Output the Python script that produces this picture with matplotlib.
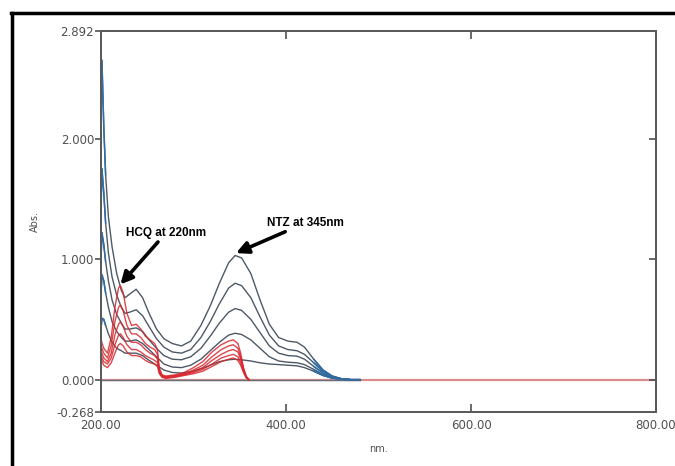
import matplotlib
matplotlib.use("Agg")
import numpy as np
import matplotlib.pyplot as plt
from matplotlib.lines import Line2D

# wavelength grid (nm) for the mixture spectra
wl_mix = [200, 201, 203, 205, 208, 212, 217, 222, 226, 231, 238, 245, 252, 260,
          268, 277, 287, 297, 308, 318, 328, 338, 345, 352, 362, 372, 382, 392,
          402, 412, 420, 430, 440, 450, 460, 470, 480]

mix_1 = [2.10, 2.65, 2.10, 1.70, 1.35, 1.10, 0.88, 0.74, 0.68, 0.71, 0.75, 0.68, 0.55, 0.42,
         0.34, 0.30, 0.28, 0.32, 0.45, 0.61, 0.80, 0.97, 1.03, 1.01, 0.88, 0.66, 0.46, 0.35,
         0.32, 0.31, 0.27, 0.17, 0.08, 0.03, 0.008, 0.0, 0.0]
mix_2 = [1.40, 1.75, 1.55, 1.30, 1.05, 0.85, 0.70, 0.60, 0.55, 0.56, 0.58, 0.53, 0.44, 0.34,
         0.27, 0.23, 0.22, 0.25, 0.35, 0.48, 0.63, 0.76, 0.80, 0.78, 0.68, 0.52, 0.37, 0.28,
         0.25, 0.24, 0.21, 0.14, 0.07, 0.025, 0.006, 0.0, 0.0]
mix_3 = [1.00, 1.22, 1.12, 0.98, 0.82, 0.66, 0.54, 0.47, 0.42, 0.42, 0.43, 0.40, 0.33, 0.26,
         0.20, 0.17, 0.165, 0.19, 0.26, 0.36, 0.47, 0.56, 0.59, 0.575, 0.50, 0.39, 0.28, 0.22,
         0.20, 0.195, 0.17, 0.11, 0.055, 0.02, 0.005, 0.0, 0.0]
mix_4 = [0.70, 0.87, 0.82, 0.72, 0.60, 0.48, 0.40, 0.35, 0.32, 0.32, 0.33, 0.30, 0.25, 0.19,
         0.13, 0.105, 0.10, 0.12, 0.17, 0.24, 0.31, 0.37, 0.385, 0.375, 0.33, 0.26, 0.19, 0.155,
         0.145, 0.14, 0.125, 0.085, 0.04, 0.015, 0.004, 0.0, 0.0]
mix_5 = [0.42, 0.51, 0.50, 0.45, 0.38, 0.31, 0.26, 0.24, 0.22, 0.22, 0.22, 0.20, 0.16, 0.12,
         0.08, 0.06, 0.055, 0.065, 0.09, 0.12, 0.15, 0.165, 0.17, 0.165, 0.155, 0.14, 0.13, 0.125,
         0.12, 0.115, 0.10, 0.07, 0.035, 0.012, 0.003, 0.0, 0.0]

# HCQ spectra
wl_hcq = [200, 203, 207, 211, 215, 219, 221, 224, 228, 233, 238, 243, 248, 253, 258, 261,
          263, 266, 270, 280, 290, 300, 310, 320, 330, 338, 343, 348, 351, 354, 357, 360]

hcq_1 = [0.33, 0.26, 0.22, 0.35, 0.60, 0.76, 0.78, 0.72, 0.55, 0.45, 0.46, 0.42, 0.36, 0.33, 0.30, 0.25,
         0.10, 0.04, 0.03, 0.04, 0.06, 0.10, 0.15, 0.23, 0.29, 0.32, 0.33, 0.30, 0.22, 0.10, 0.03, 0.0]
hcq_2 = [0.28, 0.22, 0.18, 0.28, 0.48, 0.60, 0.62, 0.57, 0.45, 0.38, 0.38, 0.35, 0.30, 0.27, 0.25, 0.21,
         0.08, 0.035, 0.025, 0.035, 0.05, 0.08, 0.12, 0.19, 0.25, 0.28, 0.29, 0.26, 0.19, 0.09, 0.025, 0.0]
hcq_3 = [0.24, 0.18, 0.15, 0.22, 0.37, 0.46, 0.48, 0.44, 0.36, 0.31, 0.31, 0.29, 0.25, 0.22, 0.20, 0.17,
         0.07, 0.03, 0.02, 0.03, 0.045, 0.07, 0.10, 0.16, 0.21, 0.24, 0.25, 0.23, 0.17, 0.08, 0.02, 0.0]
hcq_4 = [0.20, 0.15, 0.13, 0.18, 0.29, 0.37, 0.38, 0.35, 0.29, 0.25, 0.25, 0.23, 0.20, 0.18, 0.16, 0.14,
         0.06, 0.025, 0.015, 0.025, 0.04, 0.06, 0.085, 0.13, 0.18, 0.20, 0.21, 0.19, 0.14, 0.07, 0.02, 0.0]
hcq_5 = [0.17, 0.12, 0.10, 0.14, 0.22, 0.29, 0.30, 0.28, 0.23, 0.20, 0.20, 0.19, 0.16, 0.14, 0.13, 0.11,
         0.05, 0.02, 0.01, 0.02, 0.035, 0.05, 0.07, 0.11, 0.15, 0.17, 0.18, 0.16, 0.12, 0.06, 0.015, 0.0]

# zero line
base_wl = [200, 800]
base_gray_wl = [200, 480]
base_abs = [0.0, 0.0]

y_ticks = [-0.268, 0.0, 1.0, 2.0, 2.892]
y_labels = ["-0.268", "0.000", "1.000", "2.000", "2.892"]
x_ticks = [200, 400, 600, 800]
x_labels = ["200.00", "400.00", "600.00", "800.00"]

gray = "#4e5966"
blue = "#2f6ea8"
red = "#d8262c"
tick_col = "#505050"

fig = plt.figure(figsize=(6.75, 4.66), dpi=100)
ax = fig.add_axes([101 / 675, 54 / 466, 555 / 675, 381 / 466])

ax.plot(base_wl, base_abs, color="#d98c8c", lw=1.6, zorder=1)
ax.plot(base_gray_wl, base_abs, color="#6a6f78", lw=1.0, zorder=2)

wl = np.array(wl_mix)
tail = wl >= 425
head = wl <= 205
for s in [mix_1, mix_2, mix_3, mix_4, mix_5]:
    s = np.array(s)
    ax.plot(wl, s, color=gray, lw=1.0, zorder=3)
    ax.plot(wl[tail], s[tail], color=blue, lw=1.1, zorder=3)
    ax.plot(wl[head], s[head], color=blue, lw=1.1, zorder=3)

for s in [hcq_1, hcq_2, hcq_3, hcq_4, hcq_5]:
    ax.plot(wl_hcq, s, color=red, lw=1.0, alpha=0.85, zorder=4)

ax.set_xlim(200, 800)
ax.set_ylim(-0.268, 2.892)

ax.set_xticks(x_ticks)
ax.set_xticklabels(x_labels)
ax.set_yticks(y_ticks)
ax.set_yticklabels(y_labels)
ax.tick_params(axis="x", direction="in", length=6, width=1.2, color=tick_col,
               labelsize=8.5, labelcolor=tick_col, pad=5, top=True)
ax.tick_params(axis="y", direction="out", length=4, width=1.2, color=tick_col,
               labelsize=8.5, labelcolor=tick_col, pad=1)

# right-hand ticks point inward
ax_r = ax.twinx()
ax_r.set_ylim(ax.get_ylim())
ax_r.set_yticks([0.0, 1.0, 2.0])
ax_r.tick_params(axis="y", direction="in", length=5, width=1.2, color=tick_col,
                 labelright=False)

for a in (ax, ax_r):
    for sp in a.spines.values():
        sp.set_color("#5a5a5a")
        sp.set_linewidth(1.3)

ax.set_xlabel("nm.", fontsize=7, color=tick_col, labelpad=9)
ax.set_ylabel("Abs.", fontsize=7, color=tick_col)
ax.yaxis.set_label_coords(-0.11, 0.5)

font = ["Liberation Sans Narrow", "Liberation Sans", "DejaVu Sans"]
arrow = dict(arrowstyle="-|>", color="black", lw=2.6, mutation_scale=18, shrinkA=0, shrinkB=0)
ax.annotate("HCQ at 220nm", xy=(221, 0.79), xytext=(270, 1.215), ha="center", va="center",
            fontsize=8.5, fontweight="bold", family=font, arrowprops=arrow)
ax.annotate("NTZ at 345nm", xy=(346, 1.05), xytext=(421, 1.30), ha="center", va="center",
            fontsize=8.5, fontweight="bold", family=font, arrowprops=arrow)

# outer frame lines
fig.add_artist(Line2D([12 / 675, 12 / 675], [0, 1 - 13 / 466], color="black", lw=2.5))
fig.add_artist(Line2D([11 / 675, 1], [1 - 13 / 466, 1 - 13 / 466], color="black", lw=2.5))

fig.savefig("out.png", dpi=100)
